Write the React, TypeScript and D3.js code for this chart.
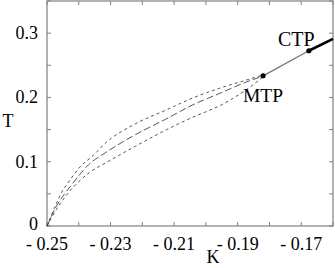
import React, { useEffect, useRef } from "react";
import * as d3 from "d3";

// curve data: [K, T]
const upperCurve = [
  [-0.25, 0], [-0.2475, 0.03], [-0.2453, 0.053], [-0.2434, 0.067],
  [-0.2396, 0.092], [-0.2354, 0.11], [-0.2316, 0.129], [-0.2222, 0.159],
  [-0.2127, 0.18], [-0.2047, 0.198], [-0.1953, 0.215], [-0.1873, 0.227],
  [-0.182, 0.235],
];
const middleCurve = [
  [-0.25, 0], [-0.2468, 0.033], [-0.2443, 0.051], [-0.2418, 0.067],
  [-0.237, 0.095], [-0.2316, 0.114], [-0.2222, 0.142], [-0.2127, 0.166],
  [-0.2047, 0.187], [-0.1953, 0.207], [-0.1873, 0.224], [-0.182, 0.233],
];
const lowerCurve = [
  [-0.25, 0], [-0.2465, 0.03], [-0.2434, 0.051], [-0.2402, 0.068],
  [-0.2364, 0.084], [-0.2316, 0.098], [-0.2222, 0.124], [-0.2127, 0.149],
  [-0.2047, 0.168], [-0.1953, 0.188], [-0.1873, 0.212], [-0.182, 0.232],
];
const mtp = [-0.182, 0.2337];
const ctp = [-0.1676, 0.2726];
const ctpLine = [ctp, [-0.16, 0.291]];

const xTicks = [-0.25, -0.24, -0.23, -0.22, -0.21, -0.2, -0.19, -0.18, -0.17, -0.16];
const xLabels = [-0.25, -0.23, -0.21, -0.19, -0.17];
const yTicks = [0, 0.05, 0.1, 0.15, 0.2, 0.25, 0.3, 0.35];
const yLabels = [0, 0.1, 0.2, 0.3];

const W = 335;
const H = 268;
const margin = { left: 47, right: 2, top: 1, bottom: 42 };
const font = "'Liberation Serif', 'DejaVu Serif', serif";

export default function App() {
  const ref = useRef(null);

  useEffect(() => {
    const svg = d3.select(ref.current);
    svg.selectAll("*").remove();

    const x = d3.scaleLinear().domain([-0.25, -0.16]).range([margin.left, W - margin.right]);
    const y = d3.scaleLinear().domain([0, 0.35]).range([H - margin.bottom, margin.top]);
    const x0 = x.range()[0], x1 = x.range()[1];
    const y0 = y.range()[0], y1 = y.range()[1];

    // frame
    svg.append("rect")
      .attr("x", x0).attr("y", y1)
      .attr("width", x1 - x0).attr("height", y0 - y1)
      .attr("fill", "none").attr("stroke", "#808080").attr("stroke-width", 1.2);

    const tl = 4;
    const ticks = svg.append("g").attr("stroke", "#808080").attr("stroke-width", 1);
    xTicks.forEach((t) => {
      ticks.append("line").attr("x1", x(t)).attr("x2", x(t)).attr("y1", y0).attr("y2", y0 - tl);
      ticks.append("line").attr("x1", x(t)).attr("x2", x(t)).attr("y1", y1).attr("y2", y1 + tl);
    });
    yTicks.forEach((t) => {
      ticks.append("line").attr("x1", x0).attr("x2", x0 + tl).attr("y1", y(t)).attr("y2", y(t));
      ticks.append("line").attr("x1", x1).attr("x2", x1 - tl).attr("y1", y(t)).attr("y2", y(t));
    });

    const txt = svg.append("g").attr("font-family", font).attr("font-size", 18).attr("fill", "#000");
    xLabels.forEach((t) => {
      txt.append("text").attr("x", x(t)).attr("y", 250)
        .attr("text-anchor", "middle").text("- " + Math.abs(t).toFixed(2));
    });
    yLabels.forEach((t) => {
      txt.append("text").attr("x", 38).attr("y", t === 0 ? 230 : y(t) + 6)
        .attr("text-anchor", "end").text(t === 0 ? "0" : String(t));
    });
    txt.append("text").attr("x", 213).attr("y", 263).attr("text-anchor", "middle").text("K");
    txt.append("text").attr("x", 8).attr("y", 127).attr("text-anchor", "middle").text("T");

    const line = d3.line()
      .x((d) => x(d[0]))
      .y((d) => y(d[1]))
      .curve(d3.curveMonotoneX);

    const curves = [
      { data: upperCurve, dash: "3,3" },
      { data: middleCurve, dash: "7,3" },
      { data: lowerCurve, dash: "3,3" },
    ];
    svg.append("g").selectAll("path").data(curves).enter().append("path")
      .attr("d", (d) => line(d.data))
      .attr("fill", "none")
      .attr("stroke", "#444")
      .attr("stroke-width", 0.9)
      .attr("stroke-dasharray", (d) => d.dash);

    svg.append("path").attr("d", line([mtp, ctp]))
      .attr("fill", "none").attr("stroke", "#777").attr("stroke-width", 1.4);
    svg.append("path").attr("d", line(ctpLine))
      .attr("fill", "none").attr("stroke", "#000").attr("stroke-width", 2.6);

    svg.append("g").selectAll("circle").data([mtp, ctp]).enter().append("circle")
      .attr("cx", (d) => x(d[0])).attr("cy", (d) => y(d[1])).attr("r", 2.6).attr("fill", "#000");

    const lbl = svg.append("g").attr("font-family", font).attr("font-size", 20).attr("fill", "#000");
    lbl.append("text").attr("x", 278).attr("y", 46).text("CTP");
    lbl.append("text").attr("x", 243).attr("y", 102).attr("font-size", 19.5).text("MTP");
  }, []);

  return (
    <svg ref={ref} width={W} height={H}
      style={{ position: "absolute", left: 0, top: 0, background: "#fff" }} />
  );
}
